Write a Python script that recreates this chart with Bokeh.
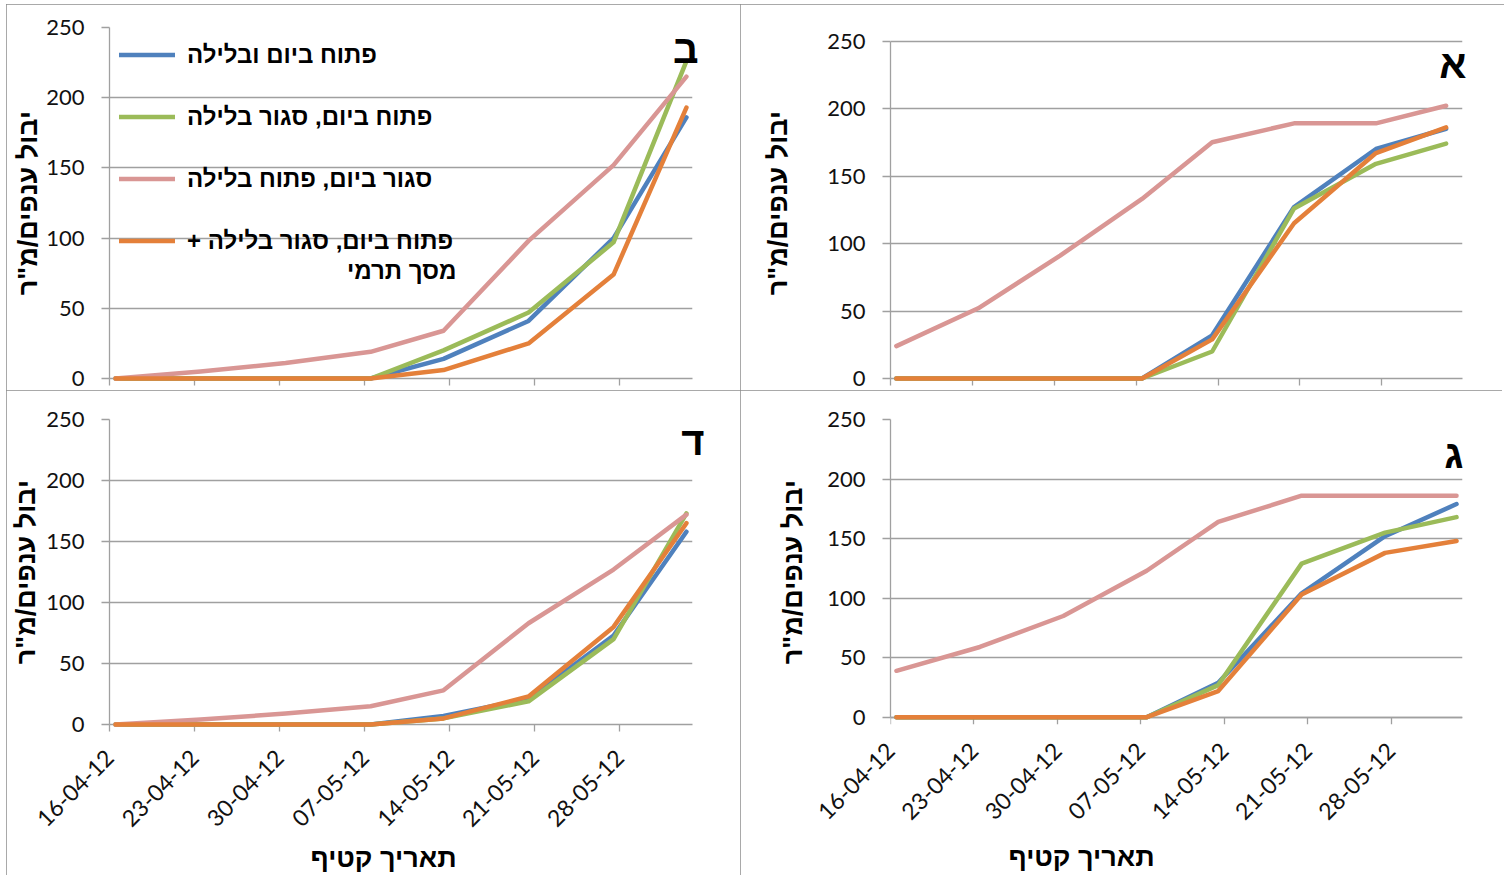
import math
from datetime import datetime, timedelta
import pandas as pd
from bokeh.plotting import figure
from bokeh.layouts import row, column
from bokeh.models import (Range1d, FixedTicker, DatetimeTickFormatter, Legend,
                          LegendItem, Spacer, DatetimeAxis)
from bokeh.core.properties import value
from bokeh.embed import file_html
from bokeh.resources import INLINE

# ---------------- data ----------------
harvest_dates = ["2012-04-16", "2012-04-23", "2012-04-30", "2012-05-07",
                 "2012-05-13", "2012-05-20", "2012-05-27", "2012-06-02"]
tick_dates = ["2012-04-16", "2012-04-23", "2012-04-30", "2012-05-07",
              "2012-05-14", "2012-05-21", "2012-05-28"]
series_names = ["פתוח ביום ובלילה", "פתוח ביום, סגור בלילה",
                "סגור ביום, פתוח בלילה", "פתוח ביום, סגור בלילה +\u200f"]
legend_second_line = "מסך תרמי"
y_label = "יבול ענפים/מ\"ר"
x_label = "תאריך קטיף"
y_ticks = [0, 50, 100, 150, 200, 250]

# panel א
a_open_day_night = [0, 0, 0, 0, 32, 127, 170, 185]
a_open_day_closed_night = [0, 0, 0, 0, 20, 126, 159, 174]
a_closed_day_open_night = [24, 52, 91, 133, 175, 189, 189, 202]
a_open_day_closed_night_screen = [0, 0, 0, 0, 29, 115, 167, 186]
# panel ב
b_open_day_night = [0, 0, 0, 0, 14, 41, 100, 186]
b_open_day_closed_night = [0, 0, 0, 0, 20, 47, 97, 226]
b_closed_day_open_night = [0, 5, 11, 19, 34, 98, 152, 215]
b_open_day_closed_night_screen = [0, 0, 0, 0, 6, 25, 74, 193]
# panel ג
c_open_day_night = [0, 0, 0, 0, 29, 104, 152, 179]
c_open_day_closed_night = [0, 0, 0, 0, 27, 129, 155, 168]
c_closed_day_open_night = [39, 59, 85, 123, 164, 186, 186, 186]
c_open_day_closed_night_screen = [0, 0, 0, 0, 22, 103, 138, 148]
# panel ד
d_open_day_night = [0, 0, 0, 0, 7, 21, 73, 158]
d_open_day_closed_night = [0, 0, 0, 0, 5, 19, 70, 173]
d_closed_day_open_night = [0, 4, 9, 15, 28, 83, 127, 172]
d_open_day_closed_night_screen = [0, 0, 0, 0, 5, 23, 80, 165]

colors = ["#4F81BD", "#9BBB59", "#D99694", "#E4803A"]

# ---------------- styling ----------------
NUM = "Lato"
HEB = "Liberation Sans"
GRID = "#A0A0A0"

x_dates = pd.to_datetime(harvest_dates) + pd.Timedelta(hours=12)
tick_ms = [pd.Timestamp(d).value // 10**6 for d in tick_dates]
x_start = datetime(2012, 4, 16)
fmt = "%d-%m-%y"


def date_formatter():
    return DatetimeTickFormatter(days=fmt, months=fmt, years=fmt,
                                 hours=fmt, hourmin=fmt)


def style_rotated_labels(ax, standoff):
    ax.major_label_orientation = math.pi / 4
    ax.major_label_standoff = standoff
    ax.major_label_text_font = NUM
    ax.major_label_text_font_size = "23px"
    ax.major_label_text_color = "#111111"


def panel(width, height, borders, series, letter, letter_off, ylab_standoff,
          show_xlabels, x_days=48.0, y_span=(0, 250), axis_at_zero=False,
          xtitle=None, legend=False, clip=None):
    bl, br, bt, bb = borders
    x_end = x_start + timedelta(days=x_days)
    p = figure(width=width, height=height, output_backend="svg",
               toolbar_location=None, x_axis_type="datetime",
               x_range=Range1d(x_start, x_end),
               y_range=Range1d(*y_span),
               min_border_left=bl, min_border_right=br, min_border_top=bt,
               min_border_bottom=bb, background_fill_color="white",
               border_fill_color="white", outline_line_color=None)
    st = {"outline": "2px solid #8C8C8C", "outline-offset": "-2px"}
    if clip:
        st["clip-path"] = clip
    p.styles = st
    p.xgrid.visible = False
    p.ygrid.ticker = FixedTicker(ticks=y_ticks)
    p.ygrid.grid_line_color = GRID
    p.ygrid.grid_line_width = 1.3

    for ax in (p.xaxis[0], p.yaxis[0]):
        ax.axis_line_color = GRID
        ax.axis_line_width = 1.3
        ax.major_tick_line_color = GRID
        ax.major_tick_line_width = 1.3
        ax.major_tick_in = 0
        ax.minor_tick_line_color = None
        ax.major_label_text_font = NUM
        ax.major_label_text_font_size = "22px"
        ax.major_label_text_color = "#111111"

    yax = p.yaxis[0]
    yax.ticker = FixedTicker(ticks=y_ticks)
    yax.bounds = (0, 250)
    yax.major_tick_out = 8
    yax.major_label_standoff = 17
    yax.axis_label = y_label
    yax.axis_label_text_font = HEB
    yax.axis_label_text_font_style = "bold"
    yax.axis_label_text_font_size = "27px"
    yax.axis_label_text_color = "black"
    yax.axis_label_standoff = ylab_standoff

    xax = p.xaxis[0]
    xax.ticker = FixedTicker(ticks=tick_ms)
    xax.formatter = date_formatter()
    xax.major_tick_out = 7
    if show_xlabels and not axis_at_zero:
        style_rotated_labels(xax, 22)
    else:
        xax.major_label_text_font_size = "1px"
        xax.major_label_text_color = None
        xax.major_label_standoff = 0
    if axis_at_zero:
        # axis line and ticks sit on the zero line; labels come from a
        # second, line-less axis below the frame
        xax.fixed_location = 0
        lab_ax = DatetimeAxis(ticker=FixedTicker(ticks=tick_ms),
                              formatter=date_formatter(),
                              axis_line_color=None,
                              major_tick_line_color=None,
                              minor_tick_line_color=None,
                              major_tick_out=0, major_tick_in=0)
        style_rotated_labels(lab_ax, 22)
        p.add_layout(lab_ax, "below")

    renderers = []
    for vals, col in zip(series, colors):
        r = p.line(x_dates, vals, line_color=col, line_width=4.5,
                   line_join="round", line_cap="round", level="overlay")
        renderers.append(r)

    dx, dy = letter_off
    p.text(x=[x_end], y=[250], text=[letter], x_offset=dx, y_offset=dy,
           text_align="right", text_baseline="middle",
           text_font=value(HEB), text_font_style="bold",
           text_font_size="40px", text_color="black", level="overlay")

    if xtitle is not None:
        ox, oy = xtitle
        p.text(x=[x_start], y=[0], text=[x_label], x_offset=ox, y_offset=oy,
               text_align="center", text_baseline="middle",
               text_font=value(HEB), text_font_style="bold",
               text_font_size="27px", text_color="black", level="overlay")

    if legend:
        items = [LegendItem(label=n, renderers=[r])
                 for n, r in zip(series_names, renderers)]
        lg = Legend(items=items, location="top_left", margin=10, padding=10,
                    glyph_width=56, glyph_height=35, label_height=35,
                    label_standoff=12, spacing=27,
                    label_text_font=HEB, label_text_font_style="bold",
                    label_text_font_size="24px", label_text_color="black",
                    background_fill_alpha=0, border_line_color=None)
        p.add_layout(lg)
        p.text(x=[x_start], y=[250], text=[legend_second_line],
               x_offset=347, y_offset=243, text_align="right",
               text_baseline="middle", text_font=value(HEB),
               text_font_style="bold", text_font_size="24px",
               text_color="black", level="overlay")
    return p


p_b = panel(734, 386, (103, 48, 23, 12),
            [b_open_day_night, b_open_day_closed_night,
             b_closed_day_open_night, b_open_day_closed_night_screen],
            "ב", (6, 21), 0, False, legend=True)
p_a = panel(764, 386, (150, 42, 23, 12),
            [a_open_day_night, a_open_day_closed_night,
             a_closed_day_open_night, a_open_day_closed_night_screen],
            "א", (4, 23), 31, False, x_days=48.9, y_span=(0, 260))
p_d = panel(734, 487, (103, 48, 29, 153),
            [d_open_day_night, d_open_day_closed_night,
             d_closed_day_open_night, d_open_day_closed_night_screen],
            "ד", (12, 21), 2, True, xtitle=(274, 133),
            clip="inset(0px 0px 2px 0px)")
p_c = panel(764, 487, (150, 42, 29, 153),
            [c_open_day_night, c_open_day_closed_night,
             c_closed_day_open_night, c_open_day_closed_night_screen],
            "ג", (1, 34), 16, True, y_span=(-6.1, 250), axis_at_zero=True,
            xtitle=(191, 140), clip="inset(0px 2px 2px 0px)")

grid = column(row(p_b, p_a), row(p_d, p_c))
layout = column(Spacer(height=4), row(Spacer(width=6), grid))

open("out.html", "w").write(file_html(layout, INLINE))
